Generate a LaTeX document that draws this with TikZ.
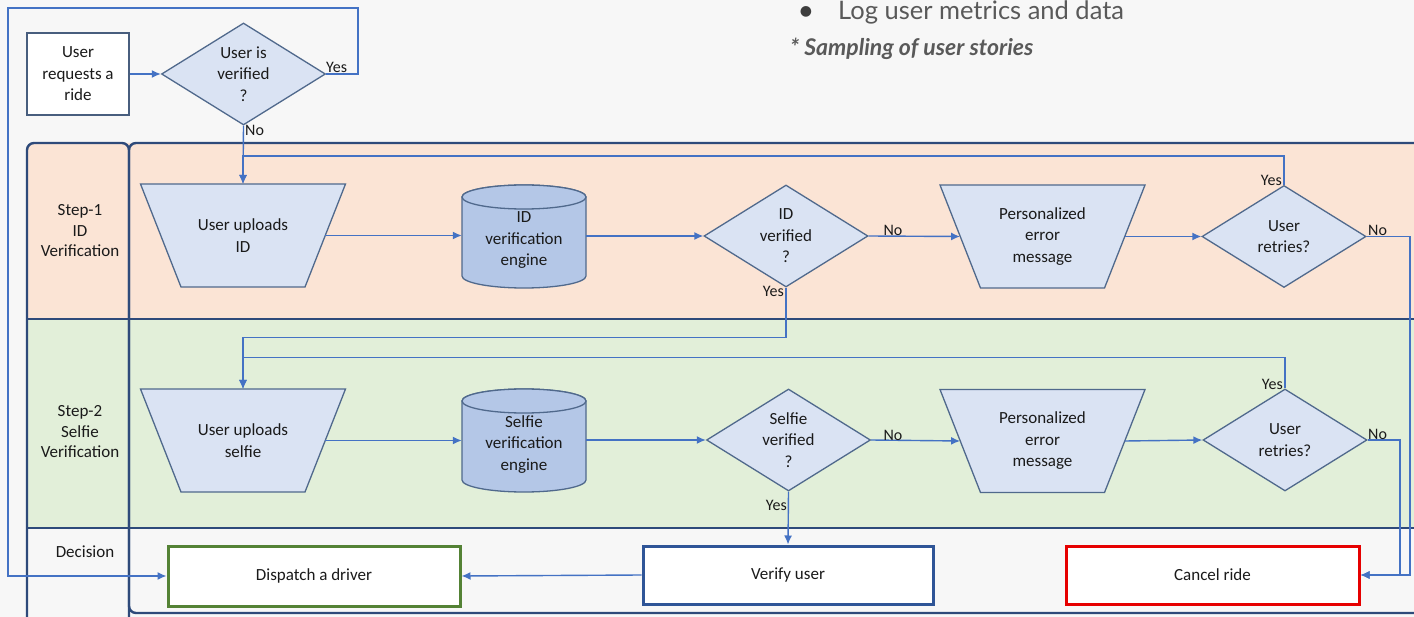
\documentclass[tikz,border=0pt]{standalone}
\usepackage{fontspec}
\setmainfont{Carlito}
\newfontfamily\lato{Lato}
\newfontfamily\dejavu{DejaVu Sans}
\usetikzlibrary{shapes.geometric,arrows.meta,calc}

\definecolor{pagebg}{HTML}{F7F7F7}
\definecolor{peach}{HTML}{FBE4D5}
\definecolor{mint}{HTML}{E2EFD9}
\definecolor{shapefill}{HTML}{DAE3F3}
\definecolor{cylfill}{HTML}{B4C7E7}
\definecolor{shapeedge}{HTML}{50698C}
\definecolor{wire}{HTML}{4472C4}
\definecolor{laneedge}{HTML}{2E4A7A}
\definecolor{okgreen}{HTML}{548235}
\definecolor{okblue}{HTML}{2F5597}
\definecolor{stopred}{HTML}{E60000}
\definecolor{note}{HTML}{595959}
\definecolor{ink}{HTML}{1A1A1A}

% database drum: body, top ellipse, then the named text node
\newcommand\dbcyl[4]{%
  \path[cylshape] ({#2-62},{#3-39.5}) -- ({#2-62},{#3+39.5})
    arc[start angle=180,end angle=360,x radius=62pt,y radius=12pt]
    -- ({#2+62},{#3-39.5})
    arc[start angle=0,end angle=180,x radius=62pt,y radius=12pt] -- cycle;
  \path[cylshape] ({#2},{#3-39.5}) ellipse[x radius=62pt,y radius=12pt];
  \node[cyltext] (#1) at (#2,{#3+4}) {#4};}

% manual-input block: wide on top, narrow at the bottom
\newcommand\iobox[4]{%
  \path[ioshape] ({#2-102.5},{#3-51.5}) -- ({#2+102.5},{#3-51.5})
    -- ({#2+62},{#3+51.5}) -- ({#2-62},{#3+51.5}) -- cycle;
  \node[iotext] (#1) at (#2,#3) {#4};}

\begin{document}
\begin{tikzpicture}[x=1pt,y=-1pt,
  every node/.style={font=\fontsize{17}{21.5}\selectfont, text=ink, align=center},
  startbox/.style={draw=shapeedge!90!black, line width=1.3pt, fill=white,
    minimum width=102pt, minimum height=82pt, inner sep=0pt},
  decision/.style={diamond, draw=shapeedge, line width=1.3pt, fill=shapefill,
    minimum width=164pt, minimum height=102pt, inner sep=0pt, aspect=1.6},
  ioshape/.style={draw=shapeedge, line width=1.3pt, fill=shapefill},
  iotext/.style={minimum width=164.5pt, minimum height=60pt, inner sep=0pt},
  cylshape/.style={draw=shapeedge, line width=1.3pt, fill=cylfill},
  cyltext/.style={minimum width=124pt, minimum height=80pt, inner sep=0pt},
  outcome/.style={line width=3pt, fill=white, minimum width=290pt,
    minimum height=58pt, inner sep=0pt},
  lane/.style={draw=laneedge, line width=2.4pt},
  conn/.style={draw=wire, line width=1.4pt, -{Latex[length=9pt,width=8pt]}},
  tag/.style={font=\fontsize{16}{18}\selectfont, inner sep=1pt},
  lanehead/.style={font=\fontsize{17}{20.5}\selectfont}]

\useasboundingbox (0,0) rectangle (1414,617);
\clip (0,0) rectangle (1414,617);
\fill[pagebg] (0,0) rectangle (1414,617);

% swimlane bands
\fill[peach] (27,319) [rounded corners=7] |- (1440,143) [sharp corners] -- (1440,319) -- cycle;
\fill[mint] (27,319) rectangle (1440,528);

% swimlane frame
\draw[lane, rounded corners=7] (27,143) rectangle (129,660);
\draw[lane, rounded corners=7] (129,143) rectangle (1460,613);
\draw[lane] (27,319) -- (1440,319);
\draw[lane] (27,528) -- (1440,528);

% notes at the top
\node[font=\dejavu\fontsize{14}{14}\selectfont, text=note!70!black, inner sep=0pt] (bul) at (806,12) {●};
\node[font=\lato\fontsize{25.5}{27}\selectfont, text=note, anchor=base west, inner sep=0pt] (log) at (838,20) {Log user metrics and data};
\node[font=\lato\bfseries\itshape\fontsize{23}{25}\selectfont, text=note, anchor=base west, inner sep=0pt] (samp) at (790,56) {* Sampling of user stories};

% lane headers
\node[lanehead] (h1) at (80,231) {Step-1\\ID\\Verification};
\node[lanehead] (h2) at (80,432) {Step-2\\Selfie\\Verification};
\node[lanehead] (h3) at (85,552) {Decision};

% entry
\node[startbox] (req) at (78,74) {User\\requests a\\ride};
\node[decision] (v0) at (243.5,74) {User is\\verified\\?};

% step 1
\iobox{u1}{243}{235.5}{User uploads\\ID}
\dbcyl{c1}{524}{236.5}{ID\\verification\\engine}
\node[decision] (d1) at (786,236) {ID\\verified\\?};
\iobox{e1}{1042.5}{236.5}{Personalized\\error\\message}
\node[decision] (r1) at (1284,236.5) {User\\retries?};

% step 2
\iobox{u2}{243}{440.5}{User uploads\\selfie}
\dbcyl{c2}{524}{440.5}{Selfie\\verification\\engine}
\node[decision] (d2) at (788.5,440) {Selfie\\verified\\?};
\iobox{e2}{1042.5}{441}{Personalized\\error\\message}
\node[decision] (r2) at (1285,440) {User\\retries?};

% outcomes
\node[outcome, draw=okgreen, minimum width=292pt, minimum height=60pt] (disp) at (314,576) {Dispatch a driver};
\node[outcome, draw=okblue] (ver) at (788,575) {Verify user};
\node[outcome, draw=stopred, minimum width=293pt] (cancel) at (1212.5,575) {Cancel ride};

% routing points
\coordinate (loopTop) at (358,8);
\coordinate (loopLeft) at (8,8);
\coordinate (noRight1) at (1410,236.5);
\coordinate (noRight2) at (1400,440);

% connectors: entry
\draw[conn] (req.east) -- (v0.west);
\draw[conn] (v0.east) -| (loopTop) -| (loopLeft |- disp.west) -- (disp.west);
\draw[conn] (v0.south) -- (u1.north |- 0,184);
\node[tag, anchor=south west] (tYes0) at (325,74) {Yes};
\node[tag, anchor=north west] (tNo0) at (244,124) {No};

% connectors: step 1
\draw[conn] (u1.east) -- (c1.west |- u1.east);
\draw[conn] (c1.east |- d1.west) -- (d1.west);
\draw[conn] (d1.east) -- (e1.west);
\draw[conn] (e1.east) -- (r1.west);
\draw[conn] (r1.north) -- ++(0,-29) -| (u1.north |- 0,184);
\draw[conn] (r1.east) -- (noRight1) |- (cancel.east);
\draw[conn] (d1.south) -- ++(0,50) -| (u2.north |- 0,389);
\node[tag, anchor=south] (tNo1) at (893,237) {No};
\node[tag, anchor=north east] (tYes1) at (785,285) {Yes};
\node[tag, anchor=south east] (tYes1r) at (1283,187) {Yes};
\node[tag, anchor=south west] (tNo1r) at (1367,237) {No};

% connectors: step 2
\draw[conn] (u2.east) -- (c2.west |- u2.east);
\draw[conn] (c2.east |- d2.west) -- (d2.west);
\draw[conn] (d2.east) -- (e2.west);
\draw[conn] (e2.east) -- (r2.west);
\draw[conn] (r2.north) -- ++(0,-31) -| (u2.north |- 0,389);
\draw[conn] (r2.east) -- (noRight2) |- (cancel.east);
\draw[conn] (d2.south) -- (ver.north);
\node[tag, anchor=south] (tNo2) at (893,442) {No};
\node[tag, anchor=north east] (tYes2) at (788,499) {Yes};
\node[tag, anchor=south east] (tYes2r) at (1284,391) {Yes};
\node[tag, anchor=south west] (tNo2r) at (1367,441) {No};

% decision lane
\draw[conn] (ver.west) -- (disp.east);
\end{tikzpicture}
\end{document}
